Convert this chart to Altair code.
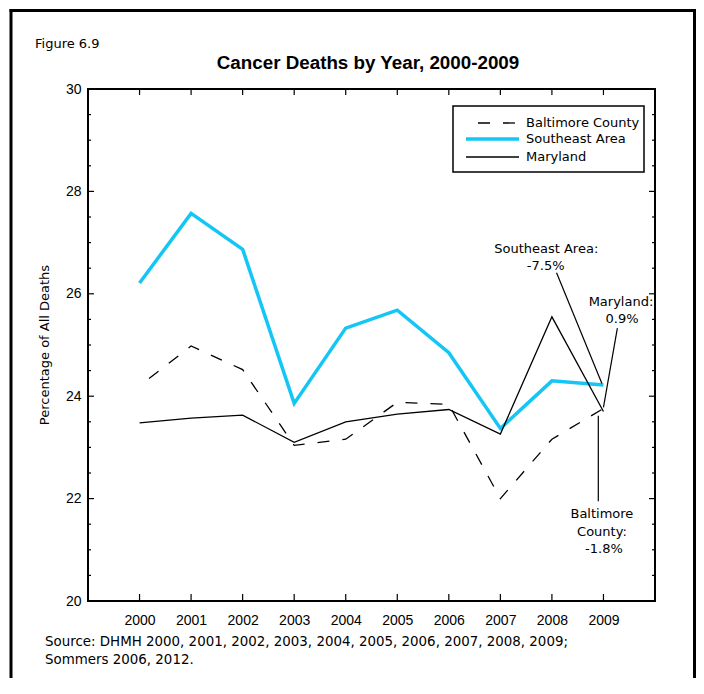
import altair as alt
import pandas as pd

# ---------------- data ----------------
years = [2000, 2001, 2002, 2003, 2004, 2005, 2006, 2007, 2008, 2009]
baltimore = [24.20, 24.98, 24.52, 23.04, 23.16, 23.88, 23.84, 22.00, 23.16, 23.76]
southeast = [26.21, 27.57, 26.87, 23.86, 25.33, 25.68, 24.85, 23.37, 24.30, 24.22]
maryland = [23.48, 23.57, 23.63, 23.10, 23.50, 23.65, 23.74, 23.26, 25.55, 23.70]

series_names = ["Baltimore County", "Southeast Area", "Maryland"]

y_major = [20, 22, 24, 26, 28, 30]
y_minor = [20.5, 21, 21.5, 22.5, 23, 23.5, 24.5, 25, 25.5, 26.5, 27, 27.5, 28.5, 29, 29.5]

ann_text = ["Southeast Area:", "-7.5%", "Maryland:", "0.9%", "Baltimore", "County:", "-1.8%"]
ann_x = [2007.89, 2007.88, 2009.34, 2009.36, 2008.97, 2008.97, 2009.01]
ann_y = [26.80, 26.47, 25.76, 25.43, 21.62, 21.26, 20.93]

lead_x = [2008.09, 2009.27, 2008.90]
lead_y = [26.41, 25.33, 23.62]
lead_x2 = [2008.97, 2009.00, 2008.90]
lead_y2 = [24.25, 23.78, 21.95]

title_text = "Cancer Deaths by Year, 2000-2009"
fig_label = "Figure 6.9"
y_title = "Percentage of All Deaths"
source_lines = [
    "Source: DHMH 2000, 2001, 2002, 2003, 2004, 2005, 2006, 2007, 2008, 2009;",
    "Sommers 2006, 2012.",
]

# ---------------- tables ----------------
df_b = pd.DataFrame({"year": years, "value": baltimore})
df_s = pd.DataFrame({"year": years, "value": southeast})
df_m = pd.DataFrame({"year": years, "value": maryland})
df_ann = pd.DataFrame({"text": ann_text, "year": ann_x, "value": ann_y})
df_lead = pd.DataFrame({"year": lead_x, "value": lead_y, "year2": lead_x2, "value2": lead_y2})
df_xt = pd.DataFrame({"year": years})
df_ymaj = pd.DataFrame({"value": y_major})
df_ymin = pd.DataFrame({"value": y_minor})
one = pd.DataFrame({"k": [0]})

W, H = 567, 512
CYAN = "#14C6F5"
SANS = "DejaVu Sans"
ARIAL = "Liberation Sans, Arial, sans-serif"

xs = alt.Scale(domain=[1999, 2010], nice=False, zero=False)
ys = alt.Scale(domain=[20, 30], nice=False, zero=False)

x_axis = alt.Axis(values=years, format="d", ticks=False, tickSize=0, domain=False,
                  grid=False, labelFont=ARIAL, labelFontSize=14, labelColor="black",
                  labelPadding=12, title=None, labelFlush=False)
y_axis = alt.Axis(values=y_major, format="d", ticks=False, tickSize=0, domain=False,
                  grid=False, labelFont=ARIAL, labelFontSize=14, labelColor="black",
                  labelPadding=7, title=None, labelFlush=False)


def X(field="year"):
    return alt.X(f"{field}:Q", scale=xs, axis=x_axis)


def Y(field="value"):
    return alt.Y(f"{field}:Q", scale=ys, axis=y_axis)


# ---------------- series ----------------
se_line = alt.Chart(df_s).mark_line(color=CYAN, strokeWidth=3.5).encode(x=X(), y=Y())
bc_line = alt.Chart(df_b).mark_line(color="black", strokeWidth=1.3,
                                    strokeDash=[12, 13], strokeDashOffset=13).encode(x=X(), y=Y())
md_line = alt.Chart(df_m).mark_line(color="black", strokeWidth=1.3).encode(x=X(), y=Y())

# ---------------- annotations ----------------
leaders = alt.Chart(df_lead).mark_rule(color="black", strokeWidth=1.2).encode(
    x=X(), y=Y(), x2="year2:Q", y2="value2:Q")
ann = alt.Chart(df_ann).mark_text(font=SANS, fontSize=13, color="black",
                                  align="center", baseline="alphabetic").encode(
    x=X(), y=Y(), text="text:N")

# ---------------- ticks (inward) ----------------
tick_style = dict(color="black", strokeWidth=1.2)
xt_bottom = alt.Chart(df_xt).mark_rule(**tick_style).encode(
    x=X(), y=alt.value(H), y2=alt.value(H - 7))
xt_top = alt.Chart(df_xt).mark_rule(**tick_style).encode(
    x=X(), y=alt.value(0), y2=alt.value(6))
yt_left_maj = alt.Chart(df_ymaj).mark_rule(**tick_style).encode(
    y=Y(), x=alt.value(0), x2=alt.value(6))
yt_right_maj = alt.Chart(df_ymaj).mark_rule(**tick_style).encode(
    y=Y(), x=alt.value(W), x2=alt.value(W - 6))
yt_left_min = alt.Chart(df_ymin).mark_rule(**tick_style).encode(
    y=Y(), x=alt.value(0), x2=alt.value(3))
yt_right_min = alt.Chart(df_ymin).mark_rule(**tick_style).encode(
    y=Y(), x=alt.value(W), x2=alt.value(W - 3))

# ---------------- legend (manual) ----------------
leg_box = alt.Chart(one).mark_rect(fill="white", stroke="black", strokeWidth=1.5).encode(
    x=alt.value(365), x2=alt.value(556), y=alt.value(17), y2=alt.value(83))
leg_b = alt.Chart(one).mark_rule(color="black", strokeWidth=1.3,
                                 strokeDash=[12, 13], strokeDashOffset=13).encode(
    x=alt.value(378), x2=alt.value(431), y=alt.value(34))
leg_s = alt.Chart(one).mark_rule(color=CYAN, strokeWidth=3.5).encode(
    x=alt.value(378), x2=alt.value(431), y=alt.value(50))
leg_m = alt.Chart(one).mark_rule(color="black", strokeWidth=1.3).encode(
    x=alt.value(378), x2=alt.value(431), y=alt.value(68))
leg_t = [
    alt.Chart(one).mark_text(text=series_names[i], font=SANS, fontSize=13, color="black",
                             align="left", baseline="middle").encode(
        x=alt.value(438), y=alt.value(yy))
    for i, yy in enumerate([34, 50, 68])
]

# ---------------- titles / texts ----------------
title = alt.Chart(one).mark_text(text=title_text, font=ARIAL, fontSize=18.8, fontWeight="bold",
                                 color="black", align="center", baseline="alphabetic").encode(
    x=alt.value(280), y=alt.value(-20))
fig = alt.Chart(one).mark_text(text=fig_label, font=SANS, fontSize=13, color="black",
                               align="left", baseline="alphabetic").encode(
    x=alt.value(-53), y=alt.value(-41))
ytitle = alt.Chart(one).mark_text(text=y_title, font=SANS, fontSize=13, color="black",
                                  align="center", baseline="middle", angle=270).encode(
    x=alt.value(-43), y=alt.value(256))
src = [
    alt.Chart(one).mark_text(text=source_lines[i], font=SANS, fontSize=13.4, color="black",
                             align="left", baseline="alphabetic").encode(
        x=alt.value(-43), y=alt.value(yy))
    for i, yy in enumerate([557, 575])
]

# ---------------- outer frame ----------------
frame_style = dict(color="black", strokeWidth=3)
fr_left = alt.Chart(one).mark_rule(**frame_style).encode(
    x=alt.value(-77), y=alt.value(-80), y2=alt.value(620))
fr_right = alt.Chart(one).mark_rule(**frame_style).encode(
    x=alt.value(606.5), y=alt.value(-80), y2=alt.value(620))
fr_top = alt.Chart(one).mark_rule(**frame_style).encode(
    x=alt.value(-78.5), x2=alt.value(608), y=alt.value(-78.5))

chart = alt.layer(
    se_line, bc_line, md_line, leaders, ann,
    xt_bottom, xt_top, yt_left_maj, yt_right_maj, yt_left_min, yt_right_min,
    leg_box, leg_b, leg_s, leg_m, *leg_t,
    title, fig, ytitle, *src,
    fr_left, fr_right, fr_top,
).properties(
    width=W, height=H,
    autosize=alt.AutoSizeParams(type="none"),
    padding={"left": 80, "top": 81, "right": 41, "bottom": 77},
    background="white",
).configure_view(
    stroke="black", strokeWidth=2
)

chart.save("out.html", embed_options={"renderer": "svg", "actions": False})
